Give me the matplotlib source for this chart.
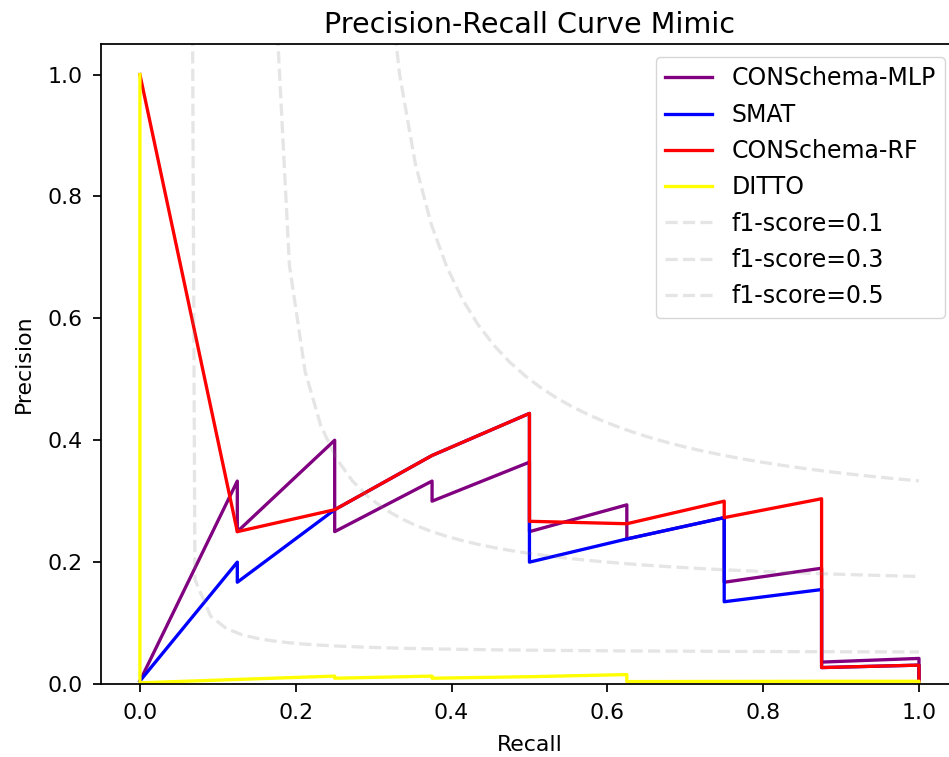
import numpy as np
import matplotlib
matplotlib.use("Agg")
import matplotlib.pyplot as plt

# recall / precision points for each model
mlp_recall = [0.0, 0.125, 0.125, 0.25, 0.25, 0.375, 0.375, 0.5, 0.5, 0.625, 0.625, 0.75, 0.75, 0.875, 0.875, 1.0, 1.0]
mlp_precision = [0.005, 0.333, 0.25, 0.40, 0.25, 0.333, 0.30, 0.364, 0.25, 0.294, 0.238, 0.273, 0.167, 0.19, 0.036, 0.042, 0.005]

smat_recall = [0.0, 0.125, 0.125, 0.25, 0.375, 0.5, 0.5, 0.5, 0.625, 0.75, 0.75, 0.875, 0.875, 1.0, 1.0]
smat_precision = [0.005, 0.20, 0.167, 0.286, 0.375, 0.444, 0.267, 0.20, 0.238, 0.273, 0.135, 0.155, 0.027, 0.031, 0.005]

rf_recall = [0.0, 0.125, 0.25, 0.375, 0.5, 0.5, 0.625, 0.75, 0.75, 0.875, 0.875, 1.0, 1.0]
rf_precision = [1.0, 0.25, 0.286, 0.375, 0.444, 0.267, 0.263, 0.30, 0.273, 0.304, 0.027, 0.031, 0.005]

ditto_recall = [0.0, 0.0, 0.25, 0.25, 0.375, 0.375, 0.5, 0.625, 0.625, 0.875, 1.0, 1.0]
ditto_precision = [1.0, 0.002, 0.013, 0.0095, 0.013, 0.0095, 0.012, 0.0155, 0.004, 0.0045, 0.0045, 0.0]

f_scores = [0.1, 0.3, 0.5]

s = 1.58  # scale factor for sizes
plt.rcParams.update({
    "font.size": 10 * s,
    "axes.linewidth": 0.8 * s,
    "xtick.major.size": 3.5 * s,
    "ytick.major.size": 3.5 * s,
    "xtick.major.width": 0.8 * s,
    "ytick.major.width": 0.8 * s,
    "xtick.major.pad": 8,
    "ytick.major.pad": 7.5,
    "lines.linewidth": 1.5 * s,
})

fig = plt.figure(figsize=(9.49, 7.57), dpi=100)
ax = fig.add_axes([0.1064, 0.0964, 0.903, 0.8454])

ax.plot(mlp_recall, mlp_precision, color="purple", label="CONSchema-MLP")
ax.plot(smat_recall, smat_precision, color="blue", label="SMAT")
ax.plot(rf_recall, rf_precision, color="red", label="CONSchema-RF")
ax.plot(ditto_recall, ditto_precision, color="yellow", label="DITTO")

# iso-f1 curves
for f in f_scores:
    x = np.linspace(0.01, 1)
    y = f * x / (2 * x - f)
    ax.plot(x[y >= 0], y[y >= 0], color="gray", alpha=0.2, linestyle="--",
            label="f1-score={}".format(f))

ax.set_xlim(-0.05, 1.05)
ax.set_ylim(0, 1.05)
ax.set_xlabel("Recall", labelpad=9)
ax.set_ylabel("Precision", labelpad=10)
ax.set_title("Precision-Recall Curve Mimic", fontsize=20.6, pad=8)
ax.legend(loc="upper right", fontsize=17, labelspacing=0.52, borderaxespad=0.55)

fig.savefig("out.png", dpi=100)
